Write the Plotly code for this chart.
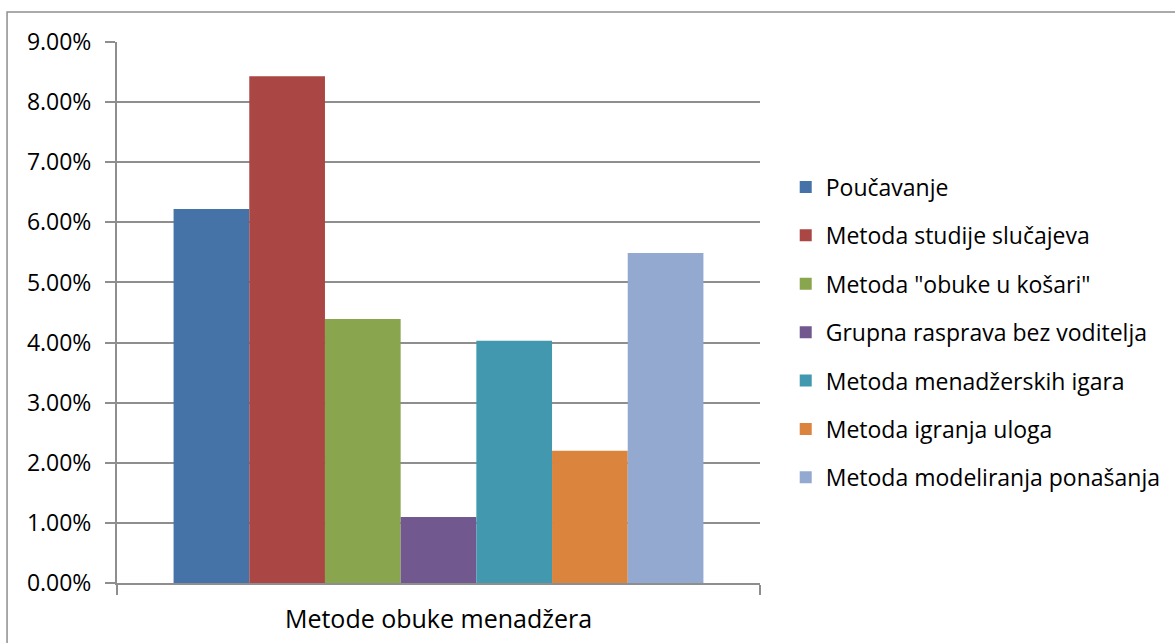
import plotly.graph_objects as go

category = ["Metode obuke menadžera"]
series_names = [
    "Poučavanje",
    "Metoda studije slučajeva",
    'Metoda "obuke u košari"',
    "Grupna rasprava bez voditelja",
    "Metoda menadžerskih igara",
    "Metoda igranja uloga",
    "Metoda modeliranja ponašanja",
]
values = [6.22, 8.43, 4.39, 1.10, 4.03, 2.20, 5.49]
colors = ["#4572A7", "#AA4643", "#89A54E", "#71588F", "#4198AF", "#DB843D", "#93A9CF"]
y_ticks = [0, 1, 2, 3, 4, 5, 6, 7, 8, 9]

FONT = "Open Sans"
FS = 23
LINE = "#8e8e8e"
fig = go.Figure()
for i, (name, v, c) in enumerate(zip(series_names, values, colors)):
    fig.add_trace(go.Bar(x=category, y=[v], name=name, marker=dict(color=c, line=dict(width=0)),
                         legendgroup=str(i)))

fig.update_layout(
    width=1175, height=643,
    margin=dict(l=117, r=415, t=42, b=60, autoexpand=False),
    paper_bgcolor="white", plot_bgcolor="white",
    barmode="group", bargap=0.176, bargroupgap=0,
    font=dict(family=FONT, size=FS, color="black"),
    legend=dict(x=1.040, xanchor="left", xref="paper", y=0.463, yanchor="middle",
                font=dict(family=FONT, size=FS, color="black"),
                traceorder="grouped", tracegroupgap=15.5, itemwidth=30),
    shapes=[dict(type="rect", xref="paper", yref="paper", x0=-0.171, y0=-1, x1=3, y1=1.0555,
                 line=dict(color=LINE, width=1.5), fillcolor="rgba(0,0,0,0)", layer="below")],
)
fig.update_yaxes(range=[0, 9], tickvals=y_ticks, ticktext=[f"{t:.2f}%" for t in y_ticks],
                 showgrid=True, gridcolor=LINE, gridwidth=2,
                 showline=True, linecolor=LINE, linewidth=2,
                 ticks="outside", ticklen=10, tickcolor=LINE, tickwidth=2, automargin=False,
                 zeroline=False, tickfont=dict(size=FS), ticklabelstandoff=9)
fig.update_xaxes(showline=True, linecolor=LINE, linewidth=2, automargin=False,
                 ticks="outside", ticklen=10, tickcolor=LINE, tickwidth=2, tickson="boundaries",
                 tickfont=dict(size=25), ticklabelstandoff=13)
fig.write_html("out.html", config={"displayModeBar": False},
               post_script="document.body.style.margin='0';")
